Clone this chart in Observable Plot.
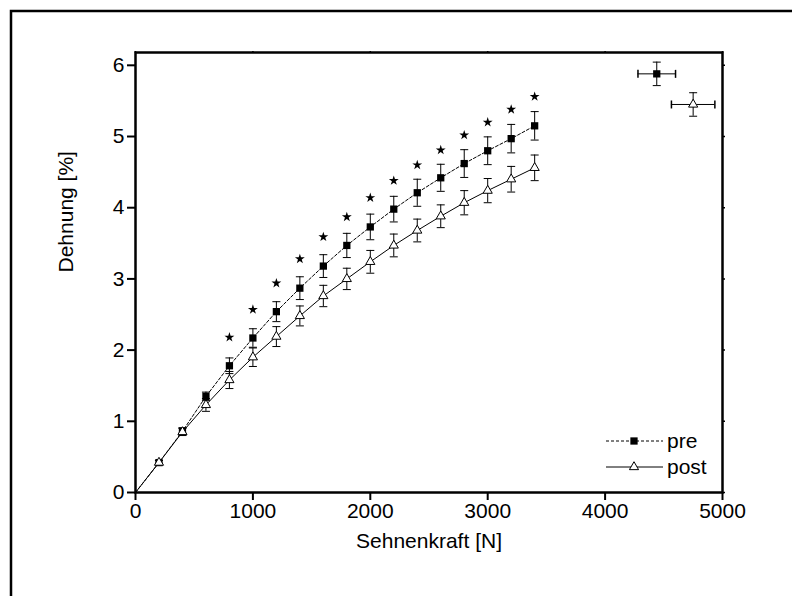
<!DOCTYPE html>
<html>
<head>
<meta charset="utf-8">
<script src="https://cdn.jsdelivr.net/npm/d3@7"></script>
<script src="https://cdn.jsdelivr.net/npm/@observablehq/plot@0.6"></script>
<style>
  html, body { margin: 0; padding: 0; background: white; }
</style>
</head>
<body>
<div id="chart"></div>
<script>
// ---- data ----
const force   = [0, 200, 400, 600, 800, 1000, 1200, 1400, 1600, 1800, 2000, 2200, 2400, 2600, 2800, 3000, 3200, 3400];
const pre     = [0, 0.42, 0.86, 1.35, 1.78, 2.17, 2.54, 2.87, 3.18, 3.47, 3.73, 3.98, 4.21, 4.42, 4.62, 4.80, 4.97, 5.15];
const preErr  = [0, 0.03, 0.05, 0.06, 0.11, 0.13, 0.14, 0.16, 0.16, 0.17, 0.18, 0.18, 0.19, 0.19, 0.195, 0.195, 0.20, 0.20];
const post    = [0, 0.42, 0.85, 1.23, 1.58, 1.90, 2.19, 2.48, 2.76, 3.00, 3.24, 3.47, 3.68, 3.88, 4.07, 4.24, 4.40, 4.56];
const postErr = [0, 0.03, 0.05, 0.09, 0.12, 0.13, 0.14, 0.14, 0.15, 0.15, 0.16, 0.16, 0.16, 0.16, 0.17, 0.17, 0.18, 0.18];
const starForce = [800, 1000, 1200, 1400, 1600, 1800, 2000, 2200, 2400, 2600, 2800, 3000, 3200, 3400];
const starY     = [2.18, 2.57, 2.94, 3.28, 3.59, 3.87, 4.14, 4.38, 4.60, 4.81, 5.02, 5.20, 5.38, 5.56];
// failure points (mean ± sd in both directions)
const peakLabel = ["pre", "post"];
const peakForce = [4440, 4750];
const peakForceErr = [160, 185];
const peakStrain = [5.88, 5.45];
const peakStrainErr = [0.165, 0.165];
const xTicks = [0, 1000, 2000, 3000, 4000, 5000];
const yTicks = [0, 1, 2, 3, 4, 5, 6];
const xTitle = "Sehnenkraft [N]";
const yTitle = "Dehnung [%]";
const seriesNames = ["pre", "post"];

// ---- tables ----
const preData = force.map((f, i) => ({f, y: pre[i], e: preErr[i]}));
const postData = force.map((f, i) => ({f, y: post[i], e: postErr[i]}));
const preMarks = preData.filter(d => d.f > 0);
const postMarks = postData.filter(d => d.f > 0);
const stars = starForce.map((f, i) => ({f, y: starY[i]}));
const peaks = peakLabel.map((s, i) => ({s, f: peakForce[i], fe: peakForceErr[i], y: peakStrain[i], e: peakStrainErr[i]}));

// custom cap symbols
const hcap = {draw(ctx, size) { const w = Math.sqrt(size / Math.PI); ctx.moveTo(-w, 0); ctx.lineTo(w, 0); }};
const vcap = {draw(ctx, size) { const w = Math.sqrt(size / Math.PI); ctx.moveTo(0, -w); ctx.lineTo(0, w); }};

const font = "'Liberation Sans', Arial, sans-serif";
const sqR = 4.1, triR = 3.4, starR = 3.1;

function errMarks(data, capR) {
  return [
    Plot.ruleX(data, {x: "f", y1: d => d.y - d.e, y2: d => d.y + d.e, stroke: "black", strokeWidth: 1}),
    Plot.dot(data, {x: "f", y: d => d.y + d.e, symbol: hcap, r: capR, stroke: "black", fill: "none", strokeWidth: 1}),
    Plot.dot(data, {x: "f", y: d => d.y - d.e, symbol: hcap, r: capR, stroke: "black", fill: "none", strokeWidth: 1})
  ];
}

const plot = Plot.plot({
  width: 792,
  height: 596,
  marginLeft: 135,
  marginRight: 70,
  marginTop: 52,
  marginBottom: 104,
  style: {fontFamily: font, fontSize: "21px", color: "black", background: "white", overflow: "visible"},
  x: {domain: [0, 5000]},
  y: {domain: [0, 6.18]},
  marks: [
    // error bars
    ...errMarks(preMarks, 4),
    ...errMarks(postMarks, 4),
    ...errMarks(peaks, 4),
    // horizontal error bars for failure points
    Plot.ruleY(peaks, {y: "y", x1: d => d.f - d.fe, x2: d => d.f + d.fe, stroke: "black", strokeWidth: 1}),
    Plot.dot(peaks, {x: d => d.f - d.fe, y: "y", symbol: vcap, r: 4, stroke: "black", fill: "none"}),
    Plot.dot(peaks, {x: d => d.f + d.fe, y: "y", symbol: vcap, r: 4, stroke: "black", fill: "none"}),
    // lines
    Plot.line(preData, {x: "f", y: "y", stroke: "black", strokeWidth: 1, strokeDasharray: "3,2"}),
    Plot.line(postData, {x: "f", y: "y", stroke: "black", strokeWidth: 1}),
    // markers
    Plot.dot(preMarks, {x: "f", y: "y", symbol: "square", r: sqR, fill: "black", stroke: "none"}),
    Plot.dot(postMarks, {x: "f", y: "y", symbol: "triangle", r: triR, fill: "white", stroke: "black", strokeWidth: 1}),
    Plot.dot(peaks.filter(d => d.s === "pre"), {x: "f", y: "y", symbol: "square", r: sqR, fill: "black", stroke: "none"}),
    Plot.dot(peaks.filter(d => d.s === "post"), {x: "f", y: "y", symbol: "triangle", r: triR, fill: "white", stroke: "black", strokeWidth: 1}),
    // significance stars
    Plot.dot(stars, {x: "f", y: "y", symbol: "star", r: starR, fill: "black", stroke: "none"}),
    // axes
    Plot.axisX({ticks: xTicks, tickSize: 8, tickPadding: 3, label: null, strokeWidth: 2, fontSize: 21, tickFormat: d => String(d)}),
    Plot.axisY({ticks: yTicks, tickSize: 8, tickPadding: 3, label: null, strokeWidth: 2, fontSize: 21, tickFormat: d => String(d)}),
    Plot.axisX({anchor: "top", ticks: xTicks, tickSize: 2, label: null, strokeWidth: 1.5, tickFormat: () => ""}),
    Plot.axisY({anchor: "right", ticks: yTicks, tickSize: 2, label: null, strokeWidth: 1.5, tickFormat: () => ""}),
    Plot.frame({stroke: "black", strokeWidth: 2.5}),
    // axis titles
    Plot.text([xTitle], {text: d => d, frameAnchor: "bottom", dy: 55, fontSize: 21, fill: "black"}),
    Plot.text([yTitle], {text: d => d, frameAnchor: "left", dx: -69, rotate: -90, fontSize: 21, fill: "black"})
  ]
});

const svg = d3.select(plot);
// outer frame of the figure (clipped at right and bottom)
svg.append("path").attr("d", "M11,596V11H792").attr("fill", "none").attr("stroke", "black").attr("stroke-width", 2.5);

// legend (lower right inside the plot)
const lg = svg.append("g").attr("font-family", font).attr("font-size", 21).attr("fill", "black").attr("text-anchor", "start");
const legendX0 = 606, legendX1 = 663, legendSym = 634, legendText = 667;
const legendRows = [441, 467];
seriesNames.forEach((name, i) => {
  const y = legendRows[i];
  lg.append("line").attr("x1", legendX0).attr("x2", legendX1).attr("y1", y).attr("y2", y)
    .attr("stroke", "black").attr("stroke-width", 1).attr("stroke-dasharray", i === 0 ? "3,2" : null);
  if (i === 0) {
    lg.append("path").attr("transform", `translate(${legendSym},${y})`)
      .attr("d", d3.symbol(d3.symbolSquare, Math.PI * sqR * sqR)()).attr("fill", "black");
  } else {
    lg.append("path").attr("transform", `translate(${legendSym},${y})`)
      .attr("d", d3.symbol(d3.symbolTriangle, Math.PI * triR * triR)()).attr("fill", "white").attr("stroke", "black");
  }
  lg.append("text").attr("x", legendText).attr("y", y).attr("dy", "0.35em").attr("text-anchor", "start").text(name);
});

document.getElementById("chart").appendChild(plot);
</script>
</body>
</html>
